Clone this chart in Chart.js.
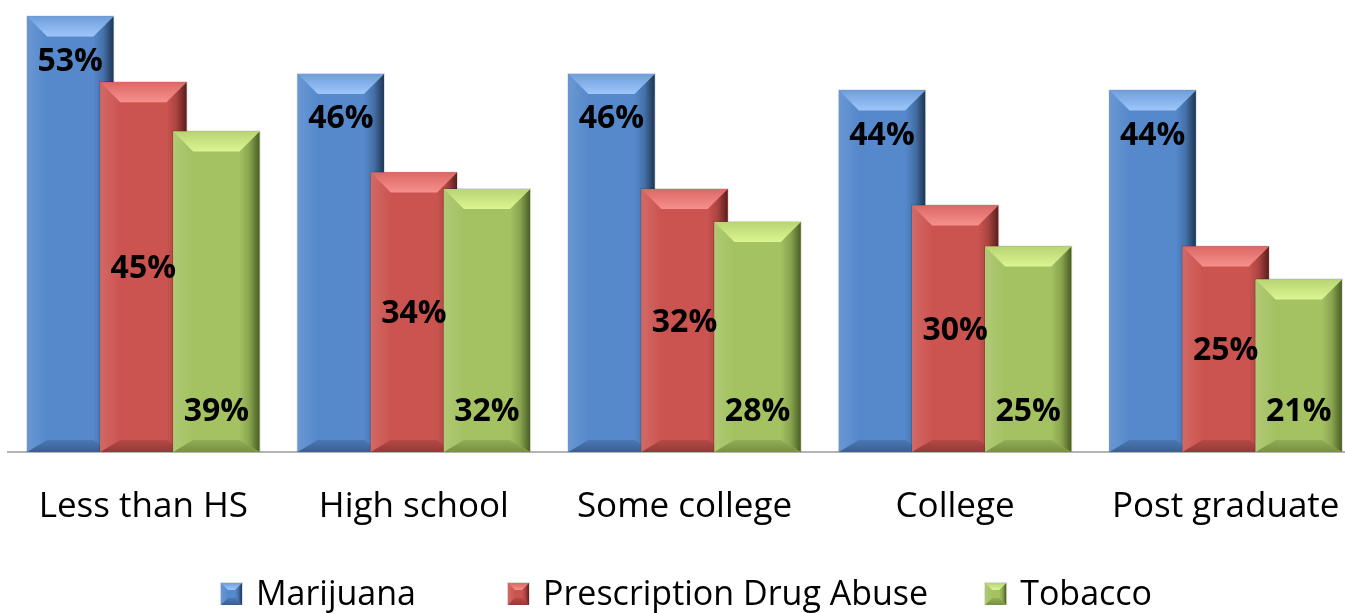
<!DOCTYPE html>
<html>
<head>
<meta charset="utf-8">
<title>Substance use by education</title>
<script src="https://cdn.jsdelivr.net/npm/chart.js@4.4.1/dist/chart.umd.min.js"></script>
<style>
  html, body { margin: 0; padding: 0; background: #fff; overflow: hidden; }
  /* plot runs slightly past the right edge, so clip the view */
  #wrap { position: relative; width: 1345px; height: 613px; overflow: hidden; }
  #eduChart { position: absolute; left: 0; top: 0; }
</style>
</head>
<body>
<div id="wrap"><canvas id="eduChart" width="1361" height="613"></canvas></div>
<script>
/* ── data ── */
var categories = ["Less than HS", "High school", "Some college", "College", "Post graduate"];
var seriesNames = ["Marijuana", "Prescription Drug Abuse", "Tobacco"];
var marijuana = [53, 46, 46, 44, 44];
var prescription = [45, 34, 32, 30, 25];
var tobacco = [39, 32, 28, 25, 21];

/* body / crest / dark edge for each series */
var SHADES = [
  { body: "#5589cc", crest: "#9ec6fa", dark: "#1f3553" },
  { body: "#cc5450", crest: "#f7908b", dark: "#5a1f1d" },
  { body: "#a4c262", crest: "#dcf593", dark: "#4a5e24" }
];
/* where each series puts its value label */
var LABEL_POS = ["end", "center", "start"];
/* space after each legend entry */
var LEGEND_GAPS = [92, 57];

var FONT = "'Open Sans', 'DejaVu Sans', sans-serif";

function hexRgb(h) {
  h = h.replace("#", "");
  return [parseInt(h.substr(0, 2), 16), parseInt(h.substr(2, 2), 16), parseInt(h.substr(4, 2), 16)];
}
function mix(a, b, t) {
  var x = hexRgb(a), y = hexRgb(b);
  return "rgb(" + [0, 1, 2].map(function(i) { return Math.round(x[i] + (y[i] - x[i]) * t); }).join(",") + ")";
}

function poly(ctx, pts, fill) {
  ctx.beginPath();
  ctx.moveTo(pts[0][0], pts[0][1]);
  for (var i = 1; i < pts.length; i++) ctx.lineTo(pts[i][0], pts[i][1]);
  ctx.closePath();
  ctx.fillStyle = fill;
  ctx.fill();
}

/* bar with an "angle" bevel: bright top face, dark right and bottom faces */
function bevelRect(ctx, L, R, T, B, pal, w, bw) {
  var h = B - T;
  if (h <= 0) return;
  w = Math.min(w, (R - L) / 2, h / 2);
  bw = Math.min(bw, h / 2);

  ctx.fillStyle = "rgba(0,0,0,0.13)";
  ctx.fillRect(L - 1, T - 1, R - L + 2, h + 1);

  ctx.fillStyle = pal.body;
  ctx.fillRect(L, T, R - L, h);

  var gl = ctx.createLinearGradient(L, 0, L + w, 0);
  gl.addColorStop(0, mix(pal.body, "#ffffff", 0.12));
  gl.addColorStop(1, pal.body);
  poly(ctx, [[L, T], [L + w, T + w], [L + w, B - bw], [L, B]], gl);

  var gr = ctx.createLinearGradient(R - w, 0, R, 0);
  gr.addColorStop(0, pal.body);
  gr.addColorStop(0.5, mix(pal.body, pal.dark, 0.3));
  gr.addColorStop(1, pal.dark);
  poly(ctx, [[R, T], [R - w, T + w], [R - w, B - bw], [R, B]], gr);

  var gb = ctx.createLinearGradient(0, B - bw, 0, B);
  gb.addColorStop(0, mix(pal.body, pal.dark, 0.2));
  gb.addColorStop(1, mix(pal.body, pal.dark, 0.5));
  poly(ctx, [[L, B], [L + w, B - bw], [R - w, B - bw], [R, B]], gb);

  var gt = ctx.createLinearGradient(0, T, 0, T + w);
  gt.addColorStop(0, mix(pal.body, pal.crest, 0.35));
  gt.addColorStop(1, pal.crest);
  poly(ctx, [[L, T], [R, T], [R - w, T + w], [L + w, T + w]], gt);
}

/* repaint bars in series order (later series overlap earlier ones) and add labels */
var bevelBars = {
  id: "bevelBars",
  afterDatasetsDraw: function(chart) {
    var ctx = chart.ctx;
    ctx.save();
    chart.data.datasets.forEach(function(ds, di) {
      chart.getDatasetMeta(di).data.forEach(function(bar) {
        var p = bar.getProps(["x", "y", "base", "width"], true);
        bevelRect(ctx, p.x - p.width / 2, p.x + p.width / 2, p.y, p.base, SHADES[di], 20, 12);
      });
    });
    ctx.font = "bold 32px " + FONT;
    ctx.fillStyle = "#000";
    ctx.textAlign = "center";
    ctx.textBaseline = "middle";
    chart.data.datasets.forEach(function(ds, di) {
      chart.getDatasetMeta(di).data.forEach(function(bar, i) {
        var p = bar.getProps(["x", "y", "base"], true);
        var y;
        if (LABEL_POS[di] === "end") y = p.y + 45;
        else if (LABEL_POS[di] === "start") y = p.base - 40;
        else y = (p.y + p.base) / 2 + 2;
        ctx.fillText(ds.data[i] + "%", p.x, y);
      });
    });
    ctx.restore();
  }
};

/* legend row under the category labels */
var bottomLegend = {
  id: "bottomLegend",
  afterDraw: function(chart) {
    var ctx = chart.ctx;
    var box = 21, gapText = 14;
    ctx.save();
    ctx.font = "34px " + FONT;
    ctx.textBaseline = "middle";
    ctx.textAlign = "left";
    var widths = seriesNames.map(function(n) { return ctx.measureText(n).width; });
    var total = 0;
    widths.forEach(function(w, i) { total += box + gapText + w + (i ? LEGEND_GAPS[i - 1] : 0); });
    var area = chart.chartArea;
    var x = (area.left + area.right) / 2 + 2 - total / 2;
    var cy = chart.height - 19;
    seriesNames.forEach(function(n, i) {
      bevelRect(ctx, x, x + box, cy - 11, cy + 11, SHADES[i], 7, 7);
      ctx.fillStyle = "#000";
      ctx.fillText(n, x + box + gapText, cy + 1);
      x += box + gapText + widths[i] + (LEGEND_GAPS[i] || 0);
    });
    ctx.restore();
  }
};

var ctx = document.getElementById("eduChart").getContext("2d");
new Chart(ctx, {
  type: "bar",
  data: {
    labels: categories,
    datasets: [
      { label: seriesNames[0], data: marijuana, backgroundColor: SHADES[0].body },
      { label: seriesNames[1], data: prescription, backgroundColor: SHADES[1].body },
      { label: seriesNames[2], data: tobacco, backgroundColor: SHADES[2].body }
    ]
  },
  options: {
    responsive: false,
    animation: false,
    devicePixelRatio: 1,
    categoryPercentage: 0.81,
    barPercentage: 1.18,
    layout: { padding: { left: 8, right: 0, top: 0, bottom: 51 } },
    plugins: { legend: { display: false }, tooltip: { enabled: false } },
    scales: {
      x: {
        grid: { display: false, drawTicks: false },
        border: { display: true, color: "#b4b4b4", width: 2 },
        ticks: { color: "#000", padding: 34, font: { family: FONT, size: 35 } },
        // labels fit inside their slots, no edge padding needed
        afterFit: function(scale) { scale.paddingLeft = 0; scale.paddingRight = 0; }
      },
      y: {
        display: false,
        min: 0,
        max: 55
      }
    }
  },
  plugins: [bevelBars, bottomLegend]
});
</script>
</body>
</html>
